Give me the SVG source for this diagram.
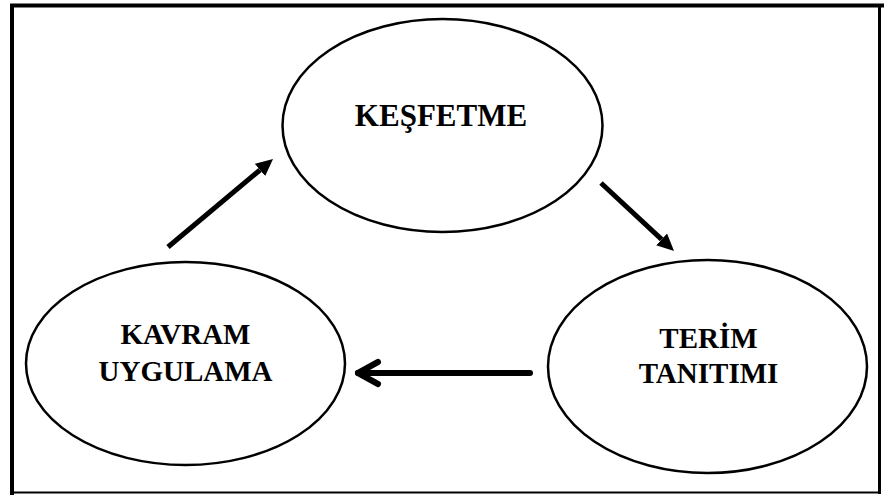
<svg xmlns="http://www.w3.org/2000/svg" width="884" height="495" viewBox="0 0 884 495">
  <style>
    .frame { stroke: #000; fill: none; }
    .node ellipse { fill: #fff; stroke: #000; stroke-width: 2.5; }
    .node text { font-family: "Liberation Serif", "Times New Roman", serif; font-weight: bold; font-size: 29px; fill: #000; text-anchor: middle; }
    .shaft { stroke: #000; stroke-width: 5; fill: none; }
    .chevron { stroke: #000; stroke-width: 6; fill: none; stroke-linecap: round; stroke-linejoin: round; }
  </style>
  <defs>
    <marker id="tri" viewBox="0 0 17 16" refX="0" refY="8" markerWidth="17" markerHeight="16" markerUnits="userSpaceOnUse" orient="auto">
      <path d="M0,0 L17,8 L0,16 Z" fill="#000"/>
    </marker>
  </defs>

  <!-- outer frame -->
  <g id="frame">
    <line class="frame" x1="10" y1="5.5" x2="884" y2="5.5" stroke-width="4"/>
    <line class="frame" x1="12" y1="4" x2="12" y2="495" stroke-width="4"/>
    <line class="frame" x1="879.5" y1="4" x2="879.5" y2="494" stroke-width="3"/>
    <line class="frame" x1="10" y1="492.5" x2="881" y2="492.5" stroke-width="2"/>
  </g>

  <g id="kesfetme" class="node">
    <ellipse cx="442.5" cy="125.5" rx="160" ry="106.5"/>
    <text x="441" y="126" style="font-size:31px">KEŞFETME</text>
  </g>

  <g id="kavram-uygulama" class="node">
    <ellipse cx="185.5" cy="363.5" rx="159.5" ry="101.5"/>
    <text x="185.5" y="344">KAVRAM</text>
    <text x="185.5" y="381">UYGULAMA</text>
  </g>

  <g id="terim-tanitimi" class="node">
    <ellipse cx="707.5" cy="366.5" rx="159.5" ry="106.5"/>
    <text x="708.5" y="348">TERİM</text>
    <text x="708.5" y="383">TANITIMI</text>
  </g>

  <g id="connectors">
    <line class="shaft" x1="168" y1="247" x2="260" y2="170" marker-end="url(#tri)"/>
    <line class="shaft" x1="601" y1="183" x2="661.6" y2="239.4" marker-end="url(#tri)"/>
    <line class="chevron" x1="530" y1="373" x2="358" y2="373"/>
    <polyline class="chevron" points="378,362 358,373 378,384"/>
  </g>
</svg>
